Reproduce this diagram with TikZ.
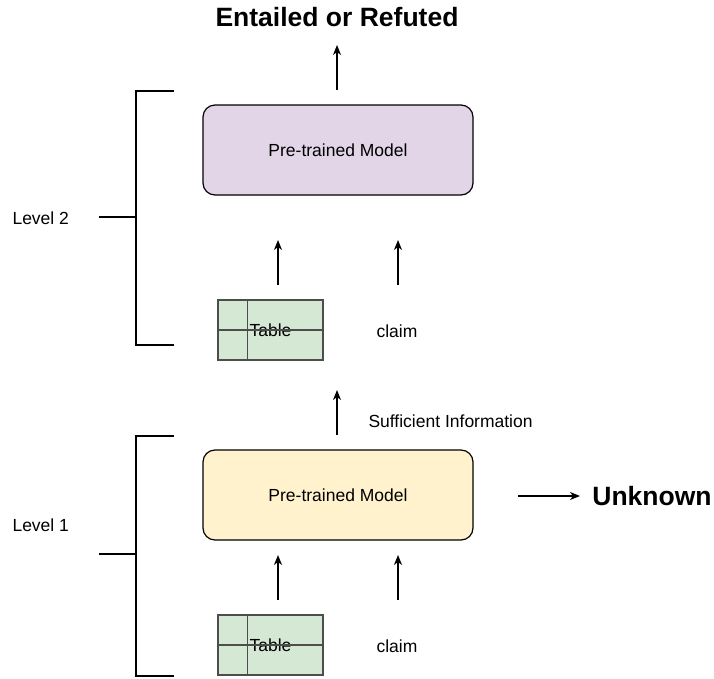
\documentclass[tikz,border=0pt]{standalone}
\usepackage{fontspec}
\setmainfont{Liberation Sans}
\usepackage{tikz}
\usetikzlibrary{arrows.meta,positioning,calc}
\definecolor{purplefill}{HTML}{E1D5E7}
\definecolor{yellowfill}{HTML}{FFF2CC}
\definecolor{greenfill}{HTML}{D5E8D4}
\definecolor{tableline}{HTML}{4D4D4D}

\begin{document}
\begin{tikzpicture}[x=1pt,y=-1pt,
    font=\fontsize{17.5}{20}\selectfont,
    model/.style={draw,rounded corners=12pt,line width=1.2pt,minimum width=270pt,minimum height=90pt},
    tablebox/.style={draw=tableline,fill=greenfill,line width=1.2pt,minimum width=105pt,minimum height=60pt},
    outlabel/.style={font=\fontsize{26.5}{30}\selectfont\bfseries},
    arr/.style={-{Stealth[length=10pt,width=8pt,inset=3pt]},line width=1.3pt},
    brace/.style={line width=2.6pt}]
    \useasboundingbox (0,0) rectangle (714,678);

    % level 2
    \node[outlabel] (res) at (337,17) {Entailed or Refuted};
    \node[model,fill=purplefill] (m2) at (338,150) {Pre-trained Model};
    \node[tablebox] (t2) at (270.5,330) {Table};
    \draw[tableline,line width=1.2pt] ($(t2.north west)+(30,0)$) -- ($(t2.south west)+(30,0)$);
    \draw[tableline,line width=1.2pt] (t2.west) -- (t2.east);
    \node (c2) at (397,331) {claim};
    \coordinate (o2s) at (337,90);
    \coordinate (o2e) at (337,45);
    \coordinate (ta2s) at (278,285);
    \coordinate (ta2e) at (278,240);
    \coordinate (cl2s) at (398,285);
    \coordinate (cl2e) at (398,240);
    \draw[arr] (o2s) -- (o2e);
    \draw[arr] (ta2s) -- (ta2e);
    \draw[arr] (cl2s) -- (cl2e);
    \draw[brace] (174,91) -- (136,91) -- (136,345) -- (174,345);
    \draw[brace] (99,217) -- (136,217);
    \node[anchor=west] (lv2) at (9,218) {Level 2};

    % level 1
    \node[model,fill=yellowfill] (m1) at (338,495) {Pre-trained Model};
    \node[outlabel] (unk) at (652,496) {Unknown};
    \node[tablebox] (t1) at (270.5,645) {Table};
    \draw[tableline,line width=1.2pt] ($(t1.north west)+(30,0)$) -- ($(t1.south west)+(30,0)$);
    \draw[tableline,line width=1.2pt] (t1.west) -- (t1.east);
    \node (c1) at (397,646) {claim};
    \coordinate (o1s) at (337,435);
    \coordinate (o1e) at (337,390);
    \node[anchor=west] (suf) at (365,421) {Sufficient Information};
    \coordinate (u1s) at (518,496);
    \coordinate (u1e) at (580,496);
    \coordinate (ta1s) at (278,600);
    \coordinate (ta1e) at (278,555);
    \coordinate (cl1s) at (398,600);
    \coordinate (cl1e) at (398,555);
    \draw[arr] (o1s) -- (o1e);
    \draw[arr] (u1s) -- (u1e);
    \draw[arr] (ta1s) -- (ta1e);
    \draw[arr] (cl1s) -- (cl1e);
    \draw[brace] (174,436) -- (136,436) -- (136,676) -- (174,676);
    \draw[brace] (99,554) -- (136,554);
    \node[anchor=west] (lv1) at (9,525) {Level 1};
  \end{tikzpicture}
\end{document}
